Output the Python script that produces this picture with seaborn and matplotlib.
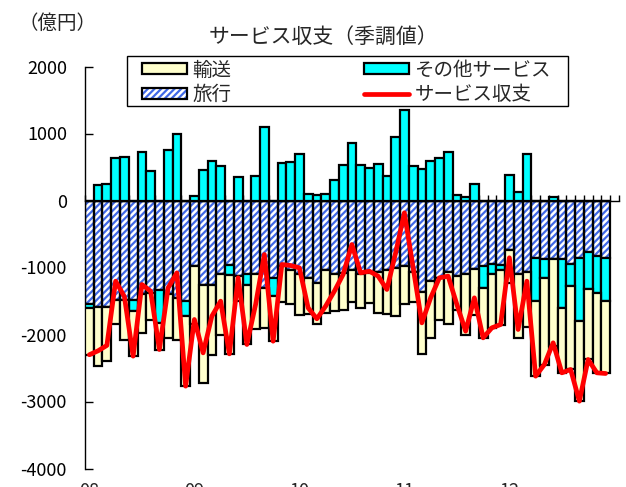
import numpy as np
import matplotlib
matplotlib.use("Agg")
import matplotlib.pyplot as plt
import seaborn as sns
from matplotlib.patches import Patch, Rectangle
from matplotlib.lines import Line2D
from matplotlib.transforms import blended_transform_factory

sns.set_theme(style="white")
plt.rcParams['font.family'] = ['Noto Sans CJK JP', 'DejaVu Sans']
plt.rcParams['axes.unicode_minus'] = False
plt.rcParams['hatch.linewidth'] = 1.8
plt.rcParams['hatch.color'] = 'white'

# monthly values (億円), Jan 2008 - Dec 2012
year_labels = ["08", "09", "10", "11", "12"]
travel = [-1552, -1587, -1587, -1480, -1480, -1480, -1400, -1380, -1330, -1400, -1450, -1500,
          -980, -1254, -1254, -1090, -965, -1129, -1104, -1104, -1300, -1154, -980, -1030,
          -1104, -1150, -1229, -1030, -1104, -1080, -1040, -1104, -1080, -1060, -1040, -1000,
          -980, -1060, -1368, -1204, -1154, -1070, -1129, -1104, -1020, -980, -945, -970,
          -741, -1104, -1065, -855, -871, -880, -871, -955, -855, -771, -821, -855]
transport = [-700, -880, -815, -361, -605, -669, -581, -411, -394, -654, -625, -1047,
             -861, -1468, -1059, -924, -1174, -378, -895, -819, -606, -672, -537, -517,
             -602, -542, -612, -647, -548, -551, -468, -503, -453, -616, -651, -731,
             -562, -462, -930, -846, -637, -780, -498, -896, -682, -747, -796, -811,
             -492, -951, -826, -1120, -1293, -1299, -970, -1244, -1195, -1045, -1194, -1080]
other = [-50, 224, 239, 637, 652, -174, 727, 438, -500, 751, 995, -224,
         65, 448, 587, 512, -150, 353, -150, 373, 1100, -274, 562, 577,
         701, 90, 75, 100, 299, 527, 851, 527, 478, 547, 363, 950,
         1358, 522, 472, 597, 637, 721, 75, 50, 249, -323, -159, -70,
         378, 130, 687, -647, -284, 55, -731, -323, -945, -557, -557, -647]

travel = np.array(travel, dtype=float)
transport = np.array(transport, dtype=float)
other = np.array(other, dtype=float)
balance = travel + transport + other
n = len(travel)
x = np.arange(n)

BLUE = '#3F68E6'
YELLOW = '#FFFFCC'
CYAN = '#00FFFF'
RED = '#FF0000'
EDGE_LW = 1.6

fig = plt.figure(figsize=(6.26, 4.87), dpi=100)
ax = fig.add_axes([85 / 626, 18.5 / 487, 533.75 / 626, 402 / 487])

other_pos = np.where(other > 0, other, 0)
other_neg = np.where(other < 0, other, 0)

# travel: hatched fill first, black outline on top
ax.bar(x, travel, width=1.0, color=BLUE, edgecolor='white', hatch='/////', linewidth=0, zorder=2)
ax.bar(x, travel, width=1.0, fill=False, edgecolor='black', linewidth=EDGE_LW, zorder=3)
# other services: positive part above zero, negative part under travel
ax.bar(x, other_pos, width=1.0, color=CYAN, edgecolor='black', linewidth=EDGE_LW, zorder=3)
ax.bar(x, other_neg, bottom=travel, width=1.0, color=CYAN, edgecolor='black', linewidth=EDGE_LW, zorder=3)
# transport at the bottom of the stack
ax.bar(x, transport, bottom=travel + other_neg, width=1.0, color=YELLOW, edgecolor='black',
       linewidth=EDGE_LW, zorder=3)

sns.lineplot(x=x, y=balance, color=RED, linewidth=3.4, ax=ax, zorder=4)

ax.set_xlim(-0.5, n + 0.5)
ax.set_ylim(-4000, 2000)
ax.set_yticks(np.arange(-4000, 2001, 1000))
ax.set_yticklabels([str(v) for v in range(-4000, 2001, 1000)], fontsize=13)
ax.tick_params(axis='y', direction='in', length=6, width=1, pad=13, colors='black', left=True)
ax.set_xticks(np.arange(-0.5, n + 1, 1))
ax.set_xticklabels([])
ax.tick_params(axis='x', direction='in', length=4, width=1, bottom=True, colors='black')

for side in ['top', 'right']:
    ax.spines[side].set_visible(False)
ax.spines['left'].set_color('black')
ax.spines['left'].set_linewidth(1)
ax.spines['bottom'].set_position(('data', 0))
ax.spines['bottom'].set_color('black')
ax.spines['bottom'].set_linewidth(1)
ax.grid(False)

trans = blended_transform_factory(ax.transData, fig.transFigure)
for k, lab in enumerate(year_labels):
    ax.text(k * 12, 1 - 482 / 487, lab, transform=trans, ha='center', va='top',
            fontsize=13, clip_on=False)

fig.text(323 / 626, 1 - 37 / 487, "サービス収支（季調値）", ha='center', va='center', fontsize=15)
fig.text(57 / 626, 1 - 23 / 487, "（億円）", ha='center', va='center', fontsize=14)

# legend box
fig.add_artist(Rectangle((127 / 626, 1 - 106 / 487), 441 / 626, 50 / 487,
                         transform=fig.transFigure, facecolor='white', edgecolor='black',
                         linewidth=1, zorder=4))

h_transport = Patch(facecolor=YELLOW, edgecolor='black', linewidth=EDGE_LW)
h_other = Patch(facecolor=CYAN, edgecolor='black', linewidth=EDGE_LW)
h_travel = (Patch(facecolor=BLUE, edgecolor='white', hatch='/////', linewidth=0),
            Patch(fill=False, edgecolor='black', linewidth=EDGE_LW))
h_line = Line2D([0], [0], color=RED, linewidth=3.4)
# column-major fill: first column 輸送/旅行, second その他サービス/サービス収支
leg = fig.legend([h_transport, h_travel, h_other, h_line],
                 ["輸送", "旅行", "その他サービス", "サービス収支"],
                 ncol=2, loc='upper left', bbox_to_anchor=(142 / 626, 1 - 59.5 / 487),
                 bbox_transform=fig.transFigure, borderaxespad=0, fontsize=14,
                 frameon=False, handlelength=2.3, handleheight=0.55, handletextpad=0.3,
                 columnspacing=6.8, labelspacing=0.2, borderpad=0)
leg.set_zorder(5)

fig.savefig("out.png", dpi=100)
